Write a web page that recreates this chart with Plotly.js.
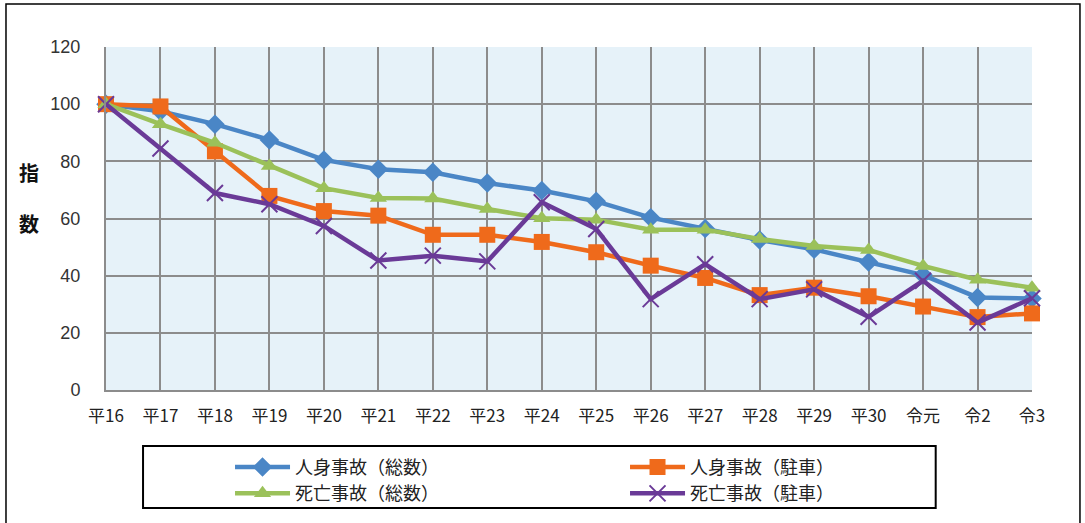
<!DOCTYPE html>
<html>
<head>
<meta charset="utf-8">
<script src="https://cdn.plot.ly/plotly-3.0.1.min.js"></script>
<style>html,body{margin:0;padding:0;background:#fff;}#chart{width:1085px;height:523px;}</style>
</head>
<body>
<div id="chart"></div>
<script>
const categories = ["平16","平17","平18","平19","平20","平21","平22","平23","平24","平25","平26","平27","平28","平29","平30","令元","令2","令3"];
const seriesNames = ["人身事故（総数）","人身事故（駐車）","死亡事故（総数）","死亡事故（駐車）"];
const injuryTotal = [100, 97.5, 93, 87.5, 80.5, 77.2, 76.2, 72.4, 69.8, 66, 60.3, 56.5, 52.5, 49.2, 44.8, 40.2, 32.4, 32];
const injuryParking = [100, 99.2, 83.5, 67.9, 62.6, 61, 54.3, 54.3, 51.8, 48.2, 43.5, 39.2, 33.2, 35.8, 32.8, 29.2, 25.5, 26.8];
const deathTotal = [100, 93, 86.5, 78.4, 70.6, 67.2, 67, 63.3, 60.1, 59.6, 56.1, 56.1, 52.8, 50.4, 49, 43.4, 38.6, 35.8];
const deathParking = [100, 84.5, 68.9, 65, 57.4, 45.3, 47, 45, 65.7, 56.3, 31.8, 44, 31.8, 35.2, 25.6, 38.2, 23.6, 32.1];
const yTicks = [0, 20, 40, 60, 80, 100, 120];

const font = "'Liberation Sans', Arial, 'Noto Sans CJK JP', sans-serif";
const jfont = "'Noto Sans CJK JP', 'Liberation Sans', sans-serif";

const traces = [
  {y: injuryTotal, name: seriesNames[0], color: '#4a86c6', symbol: 'diamond', size: 15, lw: 0},
  {y: injuryParking, name: seriesNames[1], color: '#ef6a1b', symbol: 'square', size: 16, lw: 0},
  {y: deathTotal, name: seriesNames[2], color: '#9bc15a', symbol: 'triangle-up', size: 15, lw: 0},
  {y: deathParking, name: seriesNames[3], color: '#6a3a97', symbol: 'x-thin', size: 16, lw: 2}
].map(s => ({
  type: 'scatter', mode: 'lines+markers',
  x: categories, y: s.y, name: s.name,
  line: {color: s.color, width: 4.5},
  marker: {symbol: s.symbol, size: s.size, color: s.color, line: {color: s.color, width: s.lw}},
  cliponaxis: false
}));

const layout = {
  width: 1085, height: 523,
  margin: {l: 106, r: 53, t: 47, b: 133, pad: 0},
  paper_bgcolor: '#ffffff',
  plot_bgcolor: '#e6f2f9',
  showlegend: true,
  font: {family: font, size: 15, color: '#333'},
  xaxis: {
    type: 'category', range: [0, 17],
    showgrid: true, gridcolor: '#8c8c8c', gridwidth: 2,
    showline: true, linecolor: '#8c8c8c', linewidth: 2,
    ticks: 'outside', ticklen: 10, tickcolor: 'rgba(0,0,0,0)',
    tickfont: {family: jfont, size: 17, color: '#222'},
    automargin: false, fixedrange: true
  },
  yaxis: {
    range: [0, 120], tickvals: yTicks,
    showgrid: true, gridcolor: '#8c8c8c', gridwidth: 2,
    zeroline: false,
    showline: true, linecolor: '#8c8c8c', linewidth: 2,
    ticks: 'outside', ticklen: 20, tickcolor: 'rgba(0,0,0,0)',
    tickfont: {family: font, size: 18, color: '#333'},
    automargin: false, fixedrange: true
  },
  legend: {
    orientation: 'h',
    xref: 'container', yref: 'container',
    x: 0.212, xanchor: 'left',
    y: 0.142, yanchor: 'top',
    entrywidth: 325, entrywidthmode: 'pixels',
    borderwidth: 0,
    bgcolor: 'rgba(0,0,0,0)',
    font: {family: jfont, size: 18, color: '#222'},
    tracegroupgap: 0,
    itemwidth: 55
  },
  annotations: [
    {text: '指', xref: 'paper', yref: 'paper', x: -0.083, y: 0.635, xanchor: 'center', yanchor: 'middle', showarrow: false,
     font: {family: jfont, size: 20, color: '#111', weight: 'bold'}},
    {text: '数', xref: 'paper', yref: 'paper', x: -0.083, y: 0.485, xanchor: 'center', yanchor: 'middle', showarrow: false,
     font: {family: jfont, size: 20, color: '#111', weight: 'bold'}}
  ],
  shapes: [
    {type: 'rect', xref: 'paper', yref: 'paper', x0: -0.108, x1: 1.0518, y0: -0.4, y1: 1.1254,
     line: {color: '#000', width: 1.5}, fillcolor: 'rgba(0,0,0,0)', layer: 'below'},
    {type: 'rect', xref: 'paper', yref: 'paper', x0: 0.04, x1: 0.896, y0: -0.344, y1: -0.163,
     line: {color: '#000', width: 2}, fillcolor: 'rgba(0,0,0,0)', layer: 'below'}
  ]
};

Plotly.newPlot('chart', traces, layout, {displayModeBar: false, staticPlot: true});
</script>
</body>
</html>
